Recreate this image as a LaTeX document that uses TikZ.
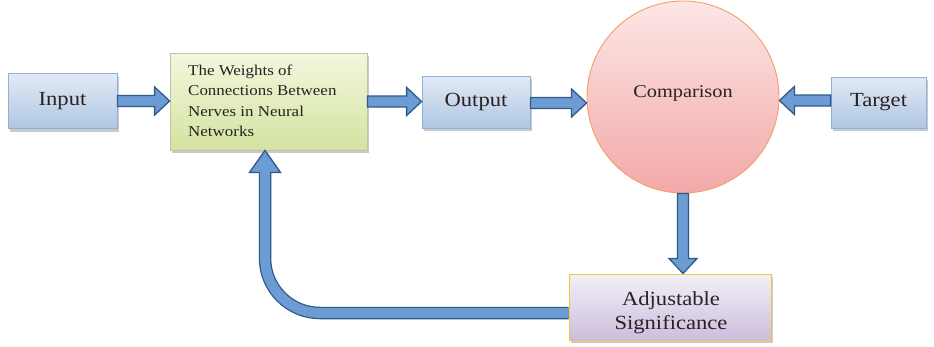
\documentclass[tikz,border=0pt]{standalone}
\usepackage{fontspec}
\setmainfont[FakeStretch=1.13]{Liberation Serif}
\usetikzlibrary{calc,shadows}
\definecolor{arrline}{HTML}{2F5A8A}
\definecolor{arrfill}{HTML}{6C9CD3}
\definecolor{bbline}{HTML}{8EB0D9}
\definecolor{bbtop}{HTML}{E2EAF5}
\definecolor{bbbot}{HTML}{AFC6E3}
\definecolor{gline}{HTML}{BFC4A8}
\definecolor{gtop}{HTML}{F3F7DF}
\definecolor{gbot}{HTML}{D3E3A0}
\definecolor{cline}{HTML}{F0A068}
\definecolor{ctop}{HTML}{FDE6E6}
\definecolor{cbot}{HTML}{F3A8A8}
\definecolor{aline}{HTML}{F3C546}
\definecolor{atop}{HTML}{F3F0F7}
\definecolor{abot}{HTML}{CBBEDD}
\definecolor{txt}{HTML}{2A2222}
\newcommand\blkarrow[2]{%
  \filldraw[blk] ($(#1)!5.5pt!90:(#2)$) --
    ($(#2)!15pt!(#1)!5.5pt!90:(#2)$) --
    ($(#2)!15pt!(#1)!14pt!90:(#2)$) --
    (#2) --
    ($(#2)!15pt!(#1)!14pt!-90:(#2)$) --
    ($(#2)!15pt!(#1)!5.5pt!-90:(#2)$) --
    ($(#1)!5.5pt!-90:(#2)$) -- cycle;}
\tikzset{
  shad/.style={drop shadow={shadow xshift=2pt, shadow yshift=-3pt, opacity=0.35, fill=black!60}},
  bluebox/.style={rectangle, draw=bbline, line width=0.8pt, top color=bbtop, bottom color=bbbot, inner sep=0pt, shad, text=txt, font=\fontsize{20}{24}\selectfont},
  greenbox/.style={rectangle, draw=gline, line width=0.8pt, top color=gtop, bottom color=gbot, inner sep=0pt, shad},
  cmpcircle/.style={circle, draw=cline, line width=0.9pt, top color=ctop, bottom color=cbot, inner sep=0pt},
  adjbox/.style={rectangle, draw=aline, line width=1pt, top color=atop, bottom color=abot, inner sep=0pt, shad},
  blk/.style={fill=arrfill, draw=arrline, line width=1.3pt, line join=miter},
  lbl/.style={inner sep=0pt, text=txt},
}
\begin{document}
\begin{tikzpicture}[x=1pt, y=-1pt]
\useasboundingbox (0,0) rectangle (934,346);
% boxes
\node[bluebox, minimum width=109pt, minimum height=55pt] (in) at (62.5,101) {Input};
\node[greenbox, minimum width=197pt, minimum height=97pt] (w) at (268.5,101.5) {};
\node[lbl, anchor=north west, align=left, font=\fontsize{15}{20.5}\selectfont] (wt) at (188,64.5)
  {The Weights of\\Connections Between\\Nerves in Neural\\Networks};
\node[bluebox, minimum width=108pt, minimum height=52pt] (out) at (476,102) {Output};
\node[cmpcircle, minimum size=192pt] (cmp) at (683,97) {};
\node[lbl, font=\fontsize{18}{22}\selectfont] (cmpt) at (683,93) {Comparison};
\node[bluebox, minimum width=95pt, minimum height=51pt] (tg) at (878.5,102.5) {Target};
\node[adjbox, minimum width=202pt, minimum height=66pt] (adj) at (670,307) {};
\node[lbl, align=center, font=\fontsize{20}{24}\selectfont] (adjt) at (671,313) {Adjustable\\Significance};
% straight arrows
\coordinate (a1) at (in.east -| w.west);
\blkarrow{in.east}{a1}
\coordinate (a2) at (w.east -| out.west);
\blkarrow{w.east}{a2}
\coordinate (a3s) at ($(out.east)+(0,1)$);
\coordinate (a3) at (a3s -| cmp.west);
\blkarrow{a3s}{a3}
\coordinate (a4s) at ($(tg.west)+(0,-2)$);
\coordinate (a4) at (a4s -| cmp.east);
\blkarrow{a4s}{a4}
\coordinate (a5) at (cmp.south |- adj.north);
\blkarrow{cmp.south}{a5}
% feedback arrow
\coordinate (fbs) at ($(adj.west)+(0,6)$);
\coordinate (fbe) at ($(w.south)+(-3.5,0)$);
\draw[line width=12.5pt, arrline, rounded corners=55pt, shorten >=22pt] (fbs) -| (fbe);
\filldraw[blk] (fbe) -- ++(15.5,22) -- ++(-31,0) -- cycle;
\draw[line width=9.9pt, arrfill, rounded corners=55pt, shorten >=20.5pt] (fbs) -| (fbe);
\end{tikzpicture}
\end{document}
